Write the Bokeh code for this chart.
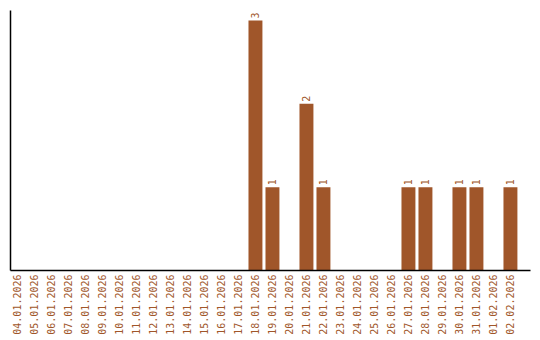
import math
from bokeh.plotting import figure
from bokeh.models import ColumnDataSource, Range1d, FixedTicker
from bokeh.core.properties import value
from bokeh.embed import file_html
from bokeh.resources import INLINE

dates = ["04.01.2026", "05.01.2026", "06.01.2026", "07.01.2026", "08.01.2026",
         "09.01.2026", "10.01.2026", "11.01.2026", "12.01.2026", "13.01.2026",
         "14.01.2026", "15.01.2026", "16.01.2026", "17.01.2026", "18.01.2026",
         "19.01.2026", "20.01.2026", "21.01.2026", "22.01.2026", "23.01.2026",
         "24.01.2026", "25.01.2026", "26.01.2026", "27.01.2026", "28.01.2026",
         "29.01.2026", "30.01.2026", "31.01.2026", "01.02.2026", "02.02.2026"]
counts = [0, 0, 0, 0, 0, 0, 0, 0, 0, 0,
          0, 0, 0, 0, 3, 1, 0, 2, 1, 0,
          0, 0, 0, 1, 1, 0, 1, 1, 0, 1]

color = "#A0562A"
font = "DejaVu Sans Mono"

xpos = [i + 0.5 for i in range(len(dates))]
src = ColumnDataSource(dict(x=xpos, y=counts))
lab_x = [x for x, c in zip(xpos, counts) if c > 0]
lab_y = [c for c in counts if c > 0]
lab_t = [str(c) for c in lab_y]
lab = ColumnDataSource(dict(x=lab_x, y=lab_y, t=lab_t))

p = figure(width=540, height=340, x_range=Range1d(0.09, 30.68),
           y_range=Range1d(0, 3.12), output_backend="svg", toolbar_location=None,
           min_border_left=10, min_border_right=10, min_border_top=10,
           min_border_bottom=70)
p.vbar(x="x", top="y", width=0.82, source=src, color=color, line_color=None)
p.text(x="x", y="y", text="t", source=lab, angle=math.pi / 2, y_offset=-2,
       text_align="left", text_baseline="middle", text_color=color,
       text_font=value(font), text_font_size="10px")

p.xgrid.visible = False
p.ygrid.visible = False
p.outline_line_color = None
p.background_fill_color = "white"
p.border_fill_color = "white"

xa = p.xaxis[0]
xa.ticker = FixedTicker(ticks=xpos)
xa.major_label_overrides = {x: d for x, d in zip(xpos, dates)}
xa.major_label_orientation = math.pi / 2
xa.major_label_text_font = font
xa.major_label_text_font_size = "10px"
xa.major_label_text_color = color
xa.major_tick_line_color = None
xa.major_tick_out = 0
xa.major_tick_in = 0
xa.minor_tick_line_color = None
xa.axis_line_color = "black"
xa.axis_line_width = 1.5
xa.major_label_standoff = 4

ya = p.yaxis[0]
ya.ticker = FixedTicker(ticks=[])
ya.major_tick_line_color = None
ya.minor_tick_line_color = None
ya.major_tick_out = 0
ya.major_tick_in = 0
ya.major_label_standoff = 0
ya.axis_line_color = "black"
ya.axis_line_width = 1.5

open("out.html", "w").write(file_html(p, INLINE))
